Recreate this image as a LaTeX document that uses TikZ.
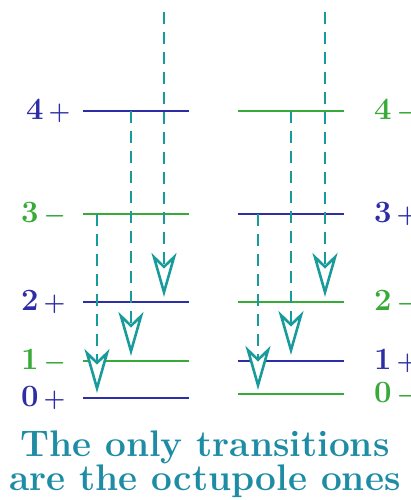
\documentclass[tikz,border=0pt]{standalone}
\usepackage{amsmath}
\usetikzlibrary{arrows.meta}
\definecolor{lvblue}{RGB}{45,45,165}
\definecolor{lvgreen}{RGB}{55,170,55}
\definecolor{trteal}{RGB}{25,155,155}
\definecolor{txteal}{RGB}{30,140,165}
\tikzset{
  bluelev/.style={lvblue, line width=2pt},
  greenlev/.style={lvgreen, line width=2pt},
  lab/.style={anchor=base west, inner sep=0pt, font=\fontsize{31}{31}\selectfont},
  bluelab/.style={lab, text=lvblue},
  greenlab/.style={lab, text=lvgreen},
  trans/.style={trteal, line width=2.6pt, dash pattern=on 12pt off 8pt,
     -{Stealth[open, fill=white, length=44pt, width=25pt, inset=12pt, line width=2.6pt]}},
  ttl/.style={anchor=base, inner sep=0pt, text=txteal,
     font=\fontsize{37}{34}\selectfont\bfseries},
}
\newcommand{\lv}[2]{{\bfseries #1}\hspace{5pt}$\boldsymbol{#2}$}
\begin{document}
\begin{tikzpicture}[x=1pt, y=-1pt]
  \useasboundingbox (0,0) rectangle (411,500);
  % left spectrum
  \draw[bluelev]  (83,111) -- (189,111);
  \draw[greenlev] (83,214) -- (189,214);
  \draw[bluelev]  (83,302) -- (189,302);
  \draw[greenlev] (83,361) -- (189,361);
  \draw[bluelev]  (83,398) -- (189,398);
  \node[bluelab]  (l4) at (26,119) {\lv{4}{+}};
  \node[greenlab] (l3) at (21,222) {\lv{3}{-}};
  \node[bluelab]  (l2) at (21,310) {\lv{2}{+}};
  \node[greenlab] (l1) at (21,369) {\lv{1}{-}};
  \node[bluelab]  (l0) at (21,406) {\lv{0}{+}};
  % right spectrum
  \draw[greenlev] (238,111) -- (344,111);
  \draw[bluelev]  (238,214) -- (344,214);
  \draw[greenlev] (238,302) -- (344,302);
  \draw[bluelev]  (238,361) -- (344,361);
  \draw[greenlev] (238,394) -- (344,394);
  \node[greenlab] (r4) at (374,119) {\lv{4}{-}};
  \node[bluelab]  (r3) at (374,222) {\lv{3}{+}};
  \node[greenlab] (r2) at (374,310) {\lv{2}{-}};
  \node[bluelab]  (r1) at (374,369) {\lv{1}{+}};
  \node[greenlab] (r0) at (374,402) {\lv{0}{-}};
  % transitions
  \coordinate (a1) at (97,214);  \coordinate (b1) at (97,393);
  \coordinate (a2) at (131,111); \coordinate (b2) at (131,356);
  \coordinate (a3) at (164,12);  \coordinate (b3) at (164,297);
  \coordinate (c1) at (258,214); \coordinate (d1) at (258,390);
  \coordinate (c2) at (291,111); \coordinate (d2) at (291,355);
  \coordinate (c3) at (325,12);  \coordinate (d3) at (325,297);
  \foreach \s/\e in {a1/b1,a2/b2,a3/b3,c1/d1,c2/d2,c3/d3}
    \draw[trans] (\s) -- (\e);
  \node[ttl] (t1) at (205,456) {The only transitions};
  \node[ttl] (t2) at (205,490) {are the octupole ones};
\end{tikzpicture}
\end{document}
